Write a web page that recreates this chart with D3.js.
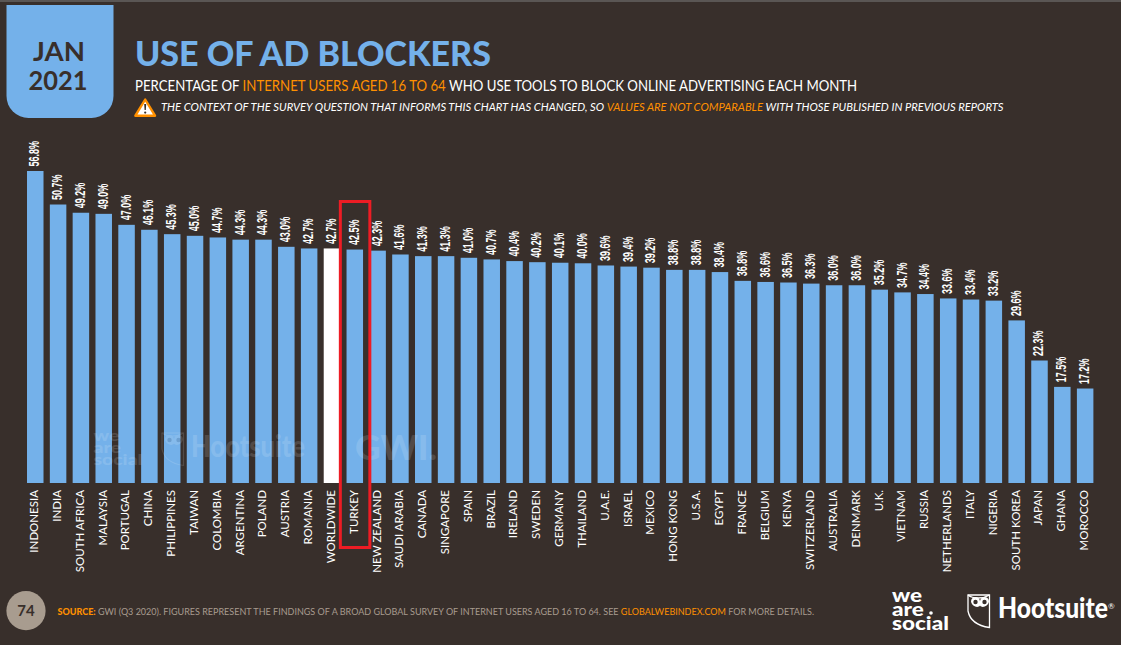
<!DOCTYPE html>
<html><head><meta charset="utf-8">
<script src="https://cdn.jsdelivr.net/npm/d3@7"></script>
<style>html,body{margin:0;padding:0;background:#382f2b;overflow:hidden}svg{display:block}text{font-family:Lato,sans-serif}</style>
</head><body><svg id="c" width="1121" height="645"></svg>
<script>
const countries=["INDONESIA","INDIA","SOUTH AFRICA","MALAYSIA","PORTUGAL","CHINA","PHILIPPINES","TAIWAN","COLOMBIA","ARGENTINA","POLAND","AUSTRIA","ROMANIA","WORLDWIDE","TURKEY","NEW ZEALAND","SAUDI ARABIA","CANADA","SINGAPORE","SPAIN","BRAZIL","IRELAND","SWEDEN","GERMANY","THAILAND","U.A.E.","ISRAEL","MEXICO","HONG KONG","U.S.A.","EGYPT","FRANCE","BELGIUM","KENYA","SWITZERLAND","AUSTRALIA","DENMARK","U.K.","VIETNAM","RUSSIA","NETHERLANDS","ITALY","NIGERIA","SOUTH KOREA","JAPAN","GHANA","MOROCCO"];
const values=[56.8,50.7,49.2,49.0,47.0,46.1,45.3,45.0,44.7,44.3,44.3,43.0,42.7,42.7,42.5,42.3,41.6,41.3,41.3,41.0,40.7,40.4,40.2,40.1,40.0,39.6,39.4,39.2,38.8,38.8,38.4,36.8,36.6,36.5,36.3,36.0,36.0,35.2,34.7,34.4,33.6,33.4,33.2,29.6,22.3,17.5,17.2];
const highlightCategory="WORLDWIDE";
const boxedCategory="TURKEY";
const BG="#382f2b",BLUE="#74b1ea",ORANGE="#ff9000",RED="#ed1c24";

const svg=d3.select("#c");
svg.append("rect").attr("width",1121).attr("height",645).attr("fill",BG);
svg.append("rect").attr("width",1121).attr("height",2).attr("fill","#5a5654");

function fit(t,x,y,w){
  const L=t.node().getComputedTextLength();
  t.attr("transform",`translate(${x},${y}) scale(${w/L},1)`);
  return t;
}
function runs(parts,size,extra){
  const t=svg.append("text").attr("font-size",size);
  if(extra)extra(t);
  parts.forEach(([s,c])=>t.append("tspan").attr("fill",c).text(s));
  return t;
}

// header tab
svg.append("path").attr("fill",BLUE).attr("d","M6.5 5H113.5V96a22 22 0 0 1-22 22H28.5a22 22 0 0 1-22-22Z");
fit(svg.append("text").attr("font-size",27).attr("font-weight",700).attr("fill",BG).text("JAN"),33,61,52);
fit(svg.append("text").attr("font-size",27).attr("font-weight",700).attr("fill",BG).text("2021"),28.5,90,59);

fit(svg.append("text").attr("font-size",35).attr("font-weight",900).attr("fill",BLUE).text("USE OF AD BLOCKERS"),135,66,356);
fit(runs([["PERCENTAGE OF ","#fff"],["INTERNET USERS AGED 16 TO 64",ORANGE],[" WHO USE TOOLS TO BLOCK ONLINE ADVERTISING EACH MONTH","#fff"]],14.5),135,91,723);
fit(runs([["THE CONTEXT OF THE SURVEY QUESTION THAT INFORMS THIS CHART HAS CHANGED, SO ","#fff"],["VALUES ARE NOT COMPARABLE",ORANGE],[" WITH THOSE PUBLISHED IN PREVIOUS REPORTS","#fff"]],11,t=>t.attr("font-style","italic")),161,111,843);

// warning icon
svg.append("path").attr("d","M145.2 99.5L155 115.7H135.4Z").attr("fill","#fff").attr("stroke",ORANGE).attr("stroke-width",2.4).attr("stroke-linejoin","round");
svg.append("path").attr("d","M144.2 104h2l-.4 6h-1.2Z").attr("fill",BG);
svg.append("circle").attr("cx",145.2).attr("cy",112.6).attr("r",1.1).attr("fill",BG);

// scales
const x=d3.scaleBand().domain(countries).range([23.7,1096.7]).paddingInner(0.277).paddingOuter(0.145);
const y=d3.scaleLinear().domain([0,56.8]).range([483,171]);

svg.append("g").selectAll("rect").data(countries).join("rect")
  .attr("x",d=>x(d)).attr("width",x.bandwidth())
  .attr("y",(d,i)=>y(values[i])).attr("height",(d,i)=>y(0)-y(values[i]))
  .attr("fill",d=>d===highlightCategory?"#fff":BLUE);

// value labels
svg.append("g").selectAll("text").data(countries).join("text")
  .style("font-family","'Liberation Sans Narrow','Liberation Sans',sans-serif")
  .attr("font-weight",700).attr("font-size",15).attr("fill","#fff")
  .attr("dominant-baseline","middle")
  .attr("transform",(d,i)=>`translate(${x(d)+x.bandwidth()/2},${y(values[i])-4.5}) rotate(-90) scale(0.6,1)`)
  .text((d,i)=>values[i].toFixed(1)+"%");

// category labels
svg.append("g").selectAll("text").data(countries).join("text")
  .attr("font-size",11.5).attr("fill","#fff").attr("text-anchor","end")
  .attr("dominant-baseline","middle")
  .attr("transform",d=>`translate(${x(d)+x.bandwidth()/2},490) rotate(-90)`)
  .text(d=>d);

// logos
function owl(g,x0,y0,w,h,col,sw){
  const a=g.append("g").attr("transform",`translate(${x0},${y0}) scale(${w/23},${h/34})`);
  a.append("path").attr("d","M1 1L22.5 1V33.5C12 32 3 27 1 17Z").attr("fill","none").attr("stroke",col).attr("stroke-width",sw);
  a.append("path").attr("d","M1 1C6 5 16 5 22.5 1").attr("fill","none").attr("stroke",col).attr("stroke-width",sw);
  a.append("path").attr("d","M4 7.5a4.5 4.5 0 0 1 9 0a4.5 4.5 0 0 1 9 0c-1 5-7 7-9 4c-2 3-8 1-9-4Z").attr("fill",col);
  [8.5,17.5].forEach(c=>a.append("circle").attr("cx",c).attr("cy",8).attr("r",2.2).attr("fill",BG));
}
function wearesocial(g,xx,base,gap,size,socialW,col){
  const words=["we","are","social"];
  const ts=words.map(s=>g.append("text").attr("font-size",size).attr("font-weight",900).attr("fill",col).text(s));
  const k=socialW/ts[2].node().getComputedTextLength();
  ts.forEach((t,i)=>t.attr("transform",`translate(${xx},${base+i*gap}) scale(${k},1)`));
}
// watermark
const wm=svg.append("g").attr("opacity",0.13);
wearesocial(wm,93.5,441,12,15,49,"#fff");
owl(wm,161,432,23,34,"#fff",1.2);
fit(wm.append("text").attr("font-size",30).attr("font-weight",900).attr("fill","#fff").text("Hootsuite"),191,457,114);
fit(wm.append("text").attr("font-size",35).attr("font-weight",900).attr("fill","#fff").text("GWI."),355,460,82);

wearesocial(svg,892,602,14,18,57,"#fff");
svg.append("circle").attr("cx",931).attr("cy",613).attr("r",1.8).attr("fill","#fff");
owl(svg,967,594,23,34,"#fff",1.3);
fit(svg.append("text").attr("font-size",28).attr("font-weight",900).attr("fill","#fff").text("Hootsuite"),998,617.5,110);
svg.append("text").attr("x",1108).attr("y",609).attr("font-size",8).attr("fill","#fff").text("®");

// red annotation box around the boxed category
const bx=x(boxedCategory);
svg.append("rect").attr("x",bx-6.2).attr("y",201.5).attr("width",x.bandwidth()+13).attr("height",346)
  .attr("fill","none").attr("stroke",RED).attr("stroke-width",3);

// footer
svg.append("circle").attr("cx",26).attr("cy",610.7).attr("r",19.6).attr("fill","#a89c8f");
svg.append("text").attr("x",26).attr("y",616).attr("text-anchor","middle").attr("font-size",15).attr("font-weight",700).attr("fill",BG).text("74");
const src=svg.append("text").attr("font-size",9.5);
src.append("tspan").attr("fill",ORANGE).attr("font-weight",900).text("SOURCE:");
src.append("tspan").attr("fill","#a89c8f").text(" GWI (Q3 2020). FIGURES REPRESENT THE FINDINGS OF A BROAD GLOBAL SURVEY OF INTERNET USERS AGED 16 TO 64. SEE ");
src.append("tspan").attr("fill",ORANGE).text("GLOBALWEBINDEX.COM");
src.append("tspan").attr("fill","#a89c8f").text(" FOR MORE DETAILS.");
fit(src,57.5,615,757.5);
</script></body></html>
